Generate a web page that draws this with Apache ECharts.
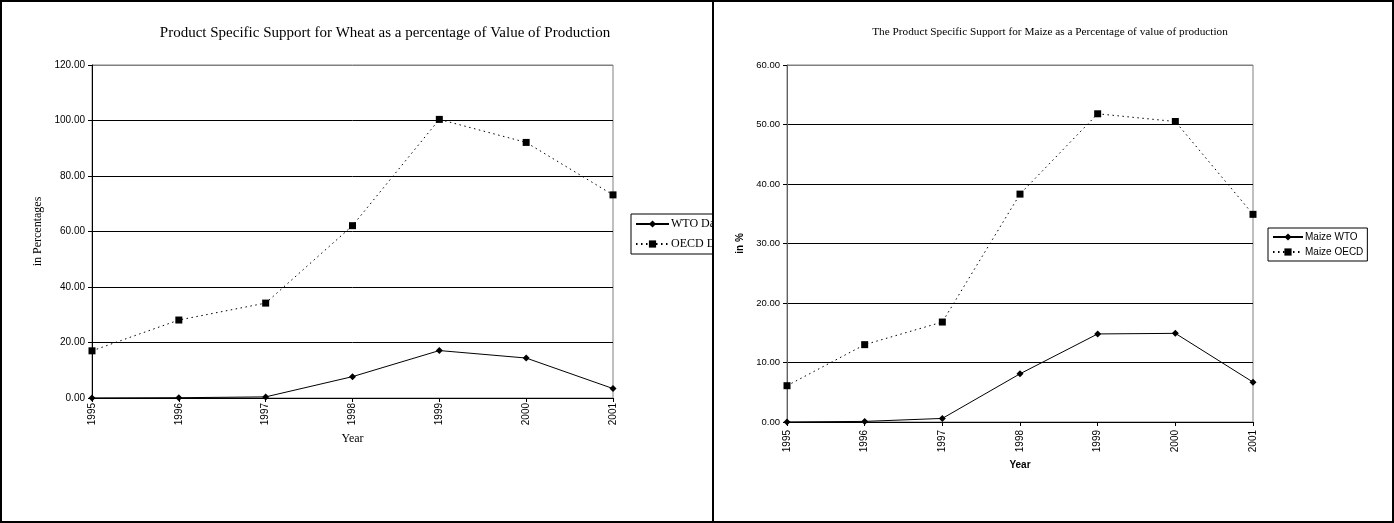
<!DOCTYPE html>
<html>
<head>
<meta charset="utf-8">
<script src="https://cdn.jsdelivr.net/npm/echarts@6/dist/echarts.min.js"></script>
<style>
  html, body { margin: 0; padding: 0; background: #fff; }
  #wrap { position: relative; width: 1394px; height: 523px; overflow: hidden; background: #fff; }
  #left { position: absolute; left: 0; top: 0; width: 713px; height: 523px; }
  #right { position: absolute; left: 713px; top: 0; width: 681px; height: 523px; }
  .frame { position: absolute; background: #000; }
</style>
</head>
<body>
<div id="wrap">
  <div id="left"></div>
  <div id="right"></div>
  <div class="frame" style="left:0;top:0;width:1394px;height:2px;"></div>
  <div class="frame" style="left:0;top:521px;width:1394px;height:2px;"></div>
  <div class="frame" style="left:0;top:0;width:2px;height:523px;"></div>
  <div class="frame" style="left:1392px;top:0;width:2px;height:523px;"></div>
  <div class="frame" style="left:712px;top:0;width:2px;height:523px;"></div>
</div>
<script>
// ---- Data ----
const years = ['1995', '1996', '1997', '1998', '1999', '2000', '2001'];

const wheatWTO  = [0.0, 0.1, 0.4, 7.7, 17.1, 14.4, 3.4];
const wheatOECD = [17.0, 28.1, 34.2, 62.1, 100.4, 92.1, 73.2];

const maizeWTO  = [0.0, 0.1, 0.6, 8.1, 14.8, 14.9, 6.7];
const maizeOECD = [6.1, 13.0, 16.8, 38.3, 51.8, 50.5, 34.9];

const wheatTitle = 'Product Specific Support for Wheat as a percentage of Value of Production';
const maizeTitle = 'The Product Specific Support for Maize as a Percentage of value of production';
const wheatLegend = ['WTO Data', 'OECD Data'];
const maizeLegend = ['Maize WTO', 'Maize OECD'];

const SERIF = '"Liberation Serif", "Times New Roman", serif';
const SANS = '"Liberation Sans", Arial, sans-serif';

function seriesPair(names, solidData, dottedData) {
  return [
    {
      name: names[0], type: 'line', data: solidData,
      symbol: 'diamond', symbolSize: 7, showSymbol: true,
      lineStyle: { color: '#000', width: 1, type: 'solid' },
      itemStyle: { color: '#000' },
      animation: false, z: 3
    },
    {
      name: names[1], type: 'line', data: dottedData,
      symbol: 'rect', symbolSize: 7, showSymbol: true,
      lineStyle: { color: '#000', width: 1, type: [1.5, 3.5] },
      itemStyle: { color: '#000' },
      animation: false, z: 4
    }
  ];
}

function splitColors(n) {
  const arr = [];
  for (let i = 0; i < n; i++) arr.push(i === n - 1 ? '#808080' : '#000');
  return arr;
}

// ---- Left chart (Wheat) ----
const left = echarts.init(document.getElementById('left'), null, { renderer: 'canvas' });
left.setOption({
  animation: false,
  backgroundColor: '#fff',
  title: {
    text: wheatTitle, left: 380, top: 21, textAlign: 'center',
    textStyle: { fontFamily: SERIF, fontSize: 15, fontWeight: 'normal', color: '#000' }
  },
  grid: { left: 92, right: 100, top: 65, bottom: 125, show: true, borderColor: '#808080', borderWidth: 1, containLabel: false },
  legend: {
    orient: 'vertical', left: 631, top: 214,
    data: wheatLegend,
    itemWidth: 33, itemHeight: 9, itemGap: 8,
    padding: [4, 4, 4, 4],
    borderColor: '#000', borderWidth: 1, borderRadius: 0,
    textStyle: { fontFamily: SERIF, fontSize: 12, color: '#000', padding: [0, 0, 0, -3] },
    selectedMode: false
  },
  xAxis: {
    type: 'category', data: years, boundaryGap: false,
    name: 'Year', nameLocation: 'middle', nameGap: 35,
    nameTextStyle: { fontFamily: SERIF, fontSize: 12, color: '#000' },
    axisLine: { lineStyle: { color: '#000', width: 1 } },
    axisTick: { show: true, alignWithLabel: true, length: 4, lineStyle: { color: '#000' } },
    axisLabel: { rotate: 90, margin: 5, fontFamily: SANS, fontSize: 10, color: '#000' },
    splitLine: { show: false }
  },
  yAxis: {
    type: 'value', min: 0, max: 120, interval: 20,
    name: 'in Percentages', nameLocation: 'middle', nameRotate: 90, nameGap: 47,
    nameTextStyle: { fontFamily: SERIF, fontSize: 12, color: '#000' },
    axisLine: { show: true, lineStyle: { color: '#000', width: 1 } },
    axisTick: { show: true, length: 4, lineStyle: { color: '#000' } },
    axisLabel: { margin: 7, fontFamily: SANS, fontSize: 10, color: '#000', formatter: v => v.toFixed(2) },
    splitLine: { show: true, lineStyle: { color: splitColors(7), width: 1 } }
  },
  series: seriesPair(wheatLegend, wheatWTO, wheatOECD)
});

// ---- Right chart (Maize) ----
const right = echarts.init(document.getElementById('right'), null, { renderer: 'canvas' });
right.setOption({
  animation: false,
  backgroundColor: '#fff',
  title: {
    text: maizeTitle, left: 1045 - 713, top: 22, textAlign: 'center',
    textStyle: { fontFamily: SERIF, fontSize: 11.25, fontWeight: 'normal', color: '#000' }
  },
  grid: { left: 74, right: 141, top: 65, bottom: 101, show: true, borderColor: '#808080', borderWidth: 1, containLabel: false },
  legend: {
    orient: 'vertical', left: 1268 - 713, top: 228,
    data: maizeLegend,
    itemWidth: 30, itemHeight: 9, itemGap: 5,
    padding: [4, 4, 4, 4],
    borderColor: '#000', borderWidth: 1, borderRadius: 0,
    textStyle: { fontFamily: SANS, fontSize: 10, color: '#000', padding: [0, 0, 0, -3] },
    selectedMode: false
  },
  xAxis: {
    type: 'category', data: years, boundaryGap: false,
    name: 'Year', nameLocation: 'middle', nameGap: 35,
    nameTextStyle: { fontFamily: SANS, fontSize: 10, fontWeight: 'bold', color: '#000' },
    axisLine: { lineStyle: { color: '#000', width: 1 } },
    axisTick: { show: true, alignWithLabel: true, length: 4, lineStyle: { color: '#000' } },
    axisLabel: { rotate: 90, margin: 8, fontFamily: SANS, fontSize: 10, color: '#000' },
    splitLine: { show: false }
  },
  yAxis: {
    type: 'value', min: 0, max: 60, interval: 10,
    name: 'in %', nameLocation: 'middle', nameRotate: 90, nameGap: 34,
    nameTextStyle: { fontFamily: SANS, fontSize: 10, fontWeight: 'bold', color: '#000' },
    axisLine: { show: true, lineStyle: { color: '#606060', width: 1 } },
    axisTick: { show: true, length: 4, lineStyle: { color: '#000' } },
    axisLabel: { margin: 7, fontFamily: SANS, fontSize: 9.5, color: '#000', formatter: v => v.toFixed(2) },
    splitLine: { show: true, lineStyle: { color: splitColors(7), width: 1 } }
  },
  series: seriesPair(maizeLegend, maizeWTO, maizeOECD)
});
</script>
</body>
</html>
